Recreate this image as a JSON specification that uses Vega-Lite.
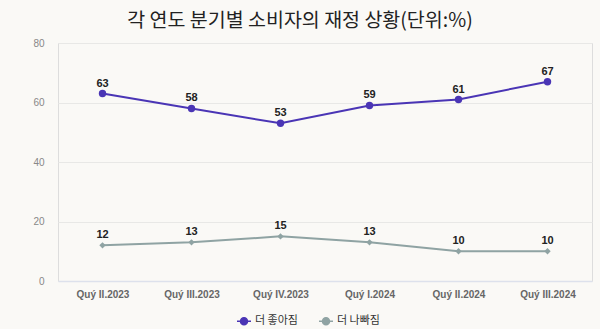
{
  "$schema": "https://vega.github.io/schema/vega-lite/v6.json",
  "autosize": "none",
  "width": 534,
  "height": 238,
  "padding": {"left": 58, "top": 43, "right": 8, "bottom": 48},
  "background": "#faf9f6",
  "title": {
    "text": "각 연도 분기별 소비자의 재정 상황(단위:%)",
    "font": "Noto Sans CJK KR",
    "fontSize": 19.5,
    "fontWeight": "normal",
    "color": "#222222",
    "anchor": "middle",
    "dx": -25,
    "offset": 7
  },
  "data": {
    "values": [
      {"q": "Quý II.2023", "s": "더 좋아짐", "v": 63},
      {"q": "Quý III.2023", "s": "더 좋아짐", "v": 58},
      {"q": "Quý IV.2023", "s": "더 좋아짐", "v": 53},
      {"q": "Quý I.2024", "s": "더 좋아짐", "v": 59},
      {"q": "Quý II.2024", "s": "더 좋아짐", "v": 61},
      {"q": "Quý III.2024", "s": "더 좋아짐", "v": 67},
      {"q": "Quý II.2023", "s": "더 나빠짐", "v": 12},
      {"q": "Quý III.2023", "s": "더 나빠짐", "v": 13},
      {"q": "Quý IV.2023", "s": "더 나빠짐", "v": 15},
      {"q": "Quý I.2024", "s": "더 나빠짐", "v": 13},
      {"q": "Quý II.2024", "s": "더 나빠짐", "v": 10},
      {"q": "Quý III.2024", "s": "더 나빠짐", "v": 10}
    ]
  },
  "encoding": {
    "x": {
      "field": "q", "type": "ordinal", "sort": null,
      "scale": {"type": "point", "padding": 0.5},
      "axis": {
        "title": null, "labelAngle": 0, "ticks": false, "grid": false,
        "domainColor": "#dde1ec", "domainWidth": 1.5,
        "labelFont": "Liberation Sans", "labelFontSize": 10, "labelFontWeight": "bold",
        "labelColor": "#666666", "labelPadding": 8
      }
    },
    "y": {
      "field": "v", "type": "quantitative",
      "scale": {"domain": [0, 80]},
      "axis": {
        "title": null, "values": [0, 20, 40, 60, 80], "domain": false, "ticks": false,
        "gridColor": "#e8e8e6", "labelFont": "Liberation Sans", "labelFontSize": 10,
        "labelColor": "#888888", "labelPadding": 14
      }
    },
    "color": {
      "field": "s", "type": "nominal",
      "scale": {"domain": ["더 좋아짐", "더 나빠짐"], "range": ["#4a35b5", "#8fa3a3"]},
      "legend": {
        "title": null, "orient": "none", "direction": "horizontal",
        "legendX": 178, "legendY": 270,
        "labelFont": "Noto Sans CJK KR", "labelFontSize": 11, "labelColor": "#333333",
        "symbolType": "M-1,0H1M0.5,0A0.5,0.5 0 1,1 -0.5,0A0.5,0.5 0 1,1 0.5,0Z",
        "symbolOpacity": 1, "symbolStrokeWidth": 1.5, "symbolSize": 196,
        "labelOffset": 3, "columnPadding": 18,
        "encode": {
          "symbols": {"update": {
            "fill": {"scale": "color", "field": "value"},
            "stroke": {"scale": "color", "field": "value"},
            "strokeWidth": {"value": 1.5},
            "opacity": {"value": 1}
          }}
        }
      }
    }
  },
  "layer": [
    {"mark": {"type": "line", "strokeWidth": 2}},
    {
      "transform": [{"filter": "datum.s === '더 좋아짐'"}],
      "mark": {"type": "point", "filled": true, "shape": "circle", "size": 55, "opacity": 1}
    },
    {
      "transform": [{"filter": "datum.s === '더 나빠짐'"}],
      "mark": {"type": "point", "filled": true, "shape": "diamond", "size": 40, "opacity": 1}
    },
    {
      "mark": {"type": "text", "dy": -10, "font": "Liberation Sans", "fontSize": 11, "fontWeight": "bold", "color": "#222222"},
      "encoding": {"text": {"field": "v", "type": "quantitative"}, "color": {"value": "#222222"}}
    }
  ]
}
